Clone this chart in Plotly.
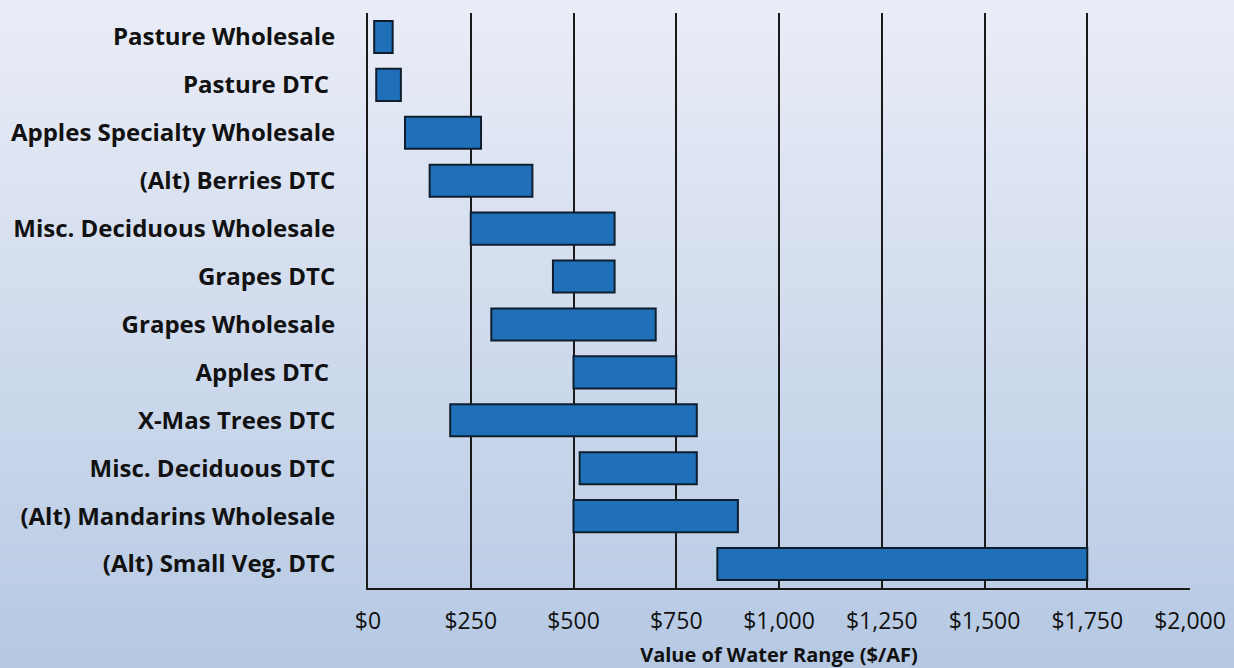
import plotly.graph_objects as go

# Value-of-water ranges by crop / market channel ($ per acre-foot)
categories = [
    "Pasture Wholesale",
    "Pasture DTC ",
    "Apples Specialty Wholesale",
    "(Alt) Berries DTC",
    "Misc. Deciduous Wholesale",
    "Grapes DTC",
    "Grapes Wholesale",
    "Apples DTC ",
    "X-Mas Trees DTC",
    "Misc. Deciduous DTC",
    "(Alt) Mandarins Wholesale",
    "(Alt) Small Veg. DTC",
]
range_low = [15, 20, 90, 150, 250, 450, 300, 500, 200, 515, 500, 850]
range_high = [60, 80, 275, 400, 600, 600, 700, 750, 800, 800, 900, 1750]

tick_values = [0, 250, 500, 750, 1000, 1250, 1500, 1750, 2000]
tick_labels = ["$0", "$250", "$500", "$750", "$1,000", "$1,250", "$1,500", "$1,750", "$2,000"]

W, H = 1234, 668
L, R, T, B = 368, 44, 13, 80
FONT = "'Open Sans', Lato, sans-serif"

fig = go.Figure(
    go.Bar(
        y=categories,
        x=[h - l for l, h in zip(range_low, range_high)],
        base=range_low,
        orientation="h",
        marker=dict(color="#1f70b9", line=dict(color="#0e1e2e", width=2)),
        hovertemplate="%{y}: $%{base:,} – $%{x:,}<extra></extra>",
    )
)

# Soft vertical gradient behind the whole figure (light lavender to pale blue)
top_rgb = (234, 237, 247)
bot_rgb = (182, 201, 227)
n_bands = 120
pw, ph = W - L - R, H - T - B
x0p, x1p = -L / pw - 0.01, 1 + R / pw + 0.01
shapes = []
for i in range(n_bands):
    f = i / (n_bands - 1)
    c = tuple(round(a + (b - a) * f) for a, b in zip(top_rgb, bot_rgb))
    y_top = 1 + T / ph - (H / ph) * i / n_bands
    y_bot = 1 + T / ph - (H / ph) * (i + 1) / n_bands
    if i == n_bands - 1:
        y_bot -= 0.02
    shapes.append(dict(
        type="rect", xref="paper", yref="paper",
        x0=x0p, x1=x1p, y0=y_bot - 0.002, y1=y_top + (0.02 if i == 0 else 0),
        fillcolor="rgb(%d,%d,%d)" % c, line=dict(width=0), layer="below",
    ))

fig.update_layout(
    width=W, height=H,
    margin=dict(l=L, r=R, t=T, b=B),
    paper_bgcolor="rgb(182,201,227)",
    plot_bgcolor="rgba(0,0,0,0)",
    shapes=shapes,
    bargap=0.33,
    showlegend=False,
    font=dict(family=FONT, color="#111111"),
    xaxis=dict(
        range=[0, 2000],
        tickvals=tick_values,
        ticktext=tick_labels,
        showgrid=True, gridcolor="#1a1a1a", gridwidth=2,
        zeroline=False,
        showline=True, linecolor="#1a1a1a", linewidth=2,
        tickfont=dict(size=23, family=FONT, color="#111111"),
        ticklabelstandoff=11,
        title=dict(
            text="<b>Value of Water Range ($/AF)</b>",
            font=dict(size=20, family=FONT, color="#111111"),
            standoff=15,
        ),
        automargin=False,
        fixedrange=True,
    ),
    yaxis=dict(
        autorange="reversed",
        showgrid=False, zeroline=False,
        showline=True, linecolor="#1a1a1a", linewidth=2,
        tickfont=dict(size=24, family=FONT, color="#111111"),
        tickprefix="<b>", ticksuffix="</b>",
        ticklabelstandoff=26,
        automargin=False,
        fixedrange=True,
    ),
)

fig.write_html("out.html")
